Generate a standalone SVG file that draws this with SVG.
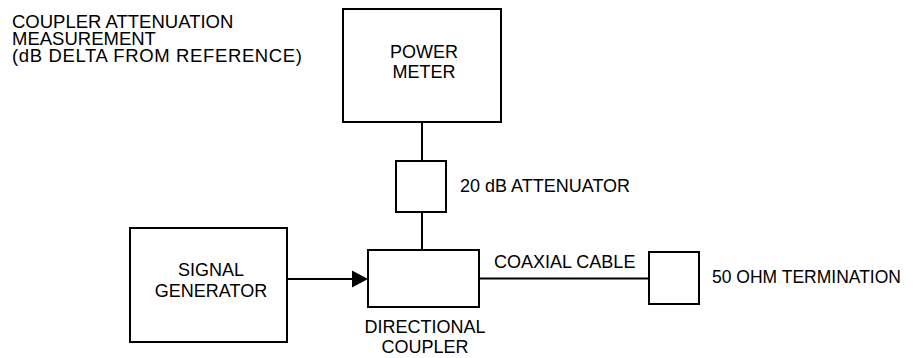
<svg xmlns="http://www.w3.org/2000/svg" width="913" height="358" viewBox="0 0 913 358">
<style>
.box{fill:#fff;stroke:#000;stroke-width:2}
.ln{fill:none;stroke:#000;stroke-width:2}
text{font-family:"Liberation Sans",Arial,sans-serif;font-size:18px;fill:#000}
.c{text-anchor:middle}
.t{font-size:18.5px}
</style>
<rect width="913" height="358" fill="#fff"/>
<g id="title">
<text class="t" x="12" y="28">COUPLER ATTENUATION</text>
<text class="t" x="12" y="45">MEASUREMENT</text>
<text class="t" x="12" y="62" textLength="290" lengthAdjust="spacing">(dB DELTA FROM REFERENCE)</text>
</g>
<g id="connectors">
<line class="ln" x1="422" y1="122" x2="422" y2="161"/>
<line class="ln" x1="422" y1="212" x2="422" y2="250"/>
<line class="ln" x1="479" y1="278.5" x2="649" y2="278.5"/>
<path d="M287,279 L352,279" class="ln"/>
<path d="M352,270.5 L368,279 L352,287.5 Z" fill="#000"/>
</g>
<g id="power-meter">
<rect class="box" x="343" y="9" width="158" height="113"/>
<text class="c" x="424" y="58">POWER</text>
<text class="c" x="424" y="78">METER</text>
</g>
<g id="attenuator">
<rect class="box" x="396" y="161" width="50" height="51"/>
<text x="460" y="192">20 dB ATTENUATOR</text>
</g>
<g id="signal-generator">
<rect class="box" x="130" y="228" width="157" height="114"/>
<text class="c" x="211" y="276">SIGNAL</text>
<text class="c" x="211" y="297">GENERATOR</text>
</g>
<g id="directional-coupler">
<rect class="box" x="368" y="250" width="111" height="57"/>
<text class="c" x="425" y="333">DIRECTIONAL</text>
<text class="c" x="425" y="353">COUPLER</text>
</g>
<g id="coax-label">
<text x="494" y="268">COAXIAL CABLE</text>
</g>
<g id="termination">
<rect class="box" x="649" y="252" width="50" height="52"/>
<text x="712" y="283" style="font-size:17.5px">50 OHM TERMINATION</text>
</g>
</svg>
